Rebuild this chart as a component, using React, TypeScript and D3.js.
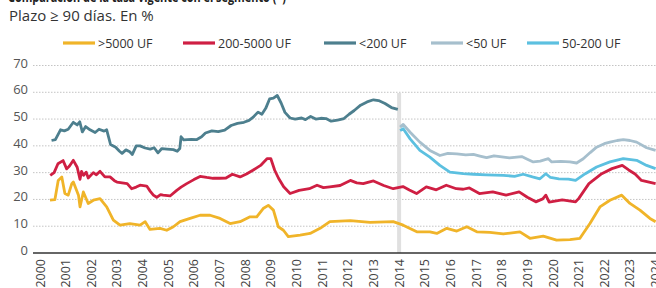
import React, { useEffect, useRef } from 'react';
import * as d3 from 'd3';

type Pt = [number, number];

const yearTicks = d3.range(2000, 2025);
const valueTicks = [0, 10, 20, 30, 40, 50, 60, 70];

// >5000 UF
const over5000: Pt[] = [
  [2000.39, 19.7], [2000.58, 19.9], [2000.71, 27.1], [2000.85, 28.4], [2000.97, 22.2], [2001.1, 21.6],
  [2001.24, 25.9], [2001.3, 26.5], [2001.5, 21.6], [2001.56, 17.2], [2001.69, 22.8], [2001.88, 18.5],
  [2002.08, 19.7], [2002.34, 20.3], [2002.6, 17.2], [2002.86, 12.3], [2003.12, 10.4], [2003.5, 11],
  [2003.9, 10.4], [2004.1, 11.7], [2004.29, 8.8], [2004.68, 9.2], [2004.94, 8.5], [2005.2, 9.8],
  [2005.46, 11.7], [2005.85, 12.9], [2006.24, 14.1], [2006.63, 14.1], [2007.02, 12.9], [2007.41, 11],
  [2007.8, 11.7], [2008.19, 13.5], [2008.45, 13.5], [2008.7, 16.6], [2008.9, 17.8], [2009.1, 16],
  [2009.29, 9.8], [2009.49, 8.5], [2009.68, 6.1], [2010.14, 6.7], [2010.53, 7.3], [2010.92, 9.2],
  [2011.3, 11.7], [2012.1, 12.1], [2012.87, 11.4], [2013.77, 11.7], [2014.16, 10.4], [2014.69, 7.9],
  [2015.2, 7.9], [2015.47, 7.3], [2015.86, 9.2], [2016.25, 8.2], [2016.64, 9.8], [2017.03, 7.9],
  [2017.54, 7.7], [2018.06, 7.1], [2018.71, 7.9], [2019.1, 5.5], [2019.62, 6.3], [2020.14, 4.8],
  [2020.66, 5], [2021.05, 5.5], [2021.44, 11], [2021.83, 17.2], [2022.22, 19.7], [2022.68, 21.6],
  [2023.0, 18.5], [2023.39, 16], [2023.78, 12.9], [2024.0, 11.7],
];

// 200-5000 UF
const mid200to5000: Pt[] = [
  [2000.4, 29], [2000.55, 30], [2000.7, 33.3], [2000.9, 34.5], [2001.04, 31.4], [2001.15, 32.5],
  [2001.3, 34.6], [2001.45, 32], [2001.56, 27.5], [2001.62, 30.5], [2001.7, 29], [2001.8, 30.2],
  [2001.88, 28], [2002.08, 30], [2002.2, 29.2], [2002.34, 30.5], [2002.53, 28.4], [2002.73, 28.4],
  [2002.9, 27], [2003.0, 26.5], [2003.2, 26.2], [2003.4, 25.9], [2003.57, 24], [2003.75, 24.6],
  [2003.9, 25.3], [2004.16, 25], [2004.3, 23], [2004.42, 21.6], [2004.55, 20.8], [2004.7, 21.8],
  [2004.8, 21.6], [2005.07, 21.3], [2005.33, 23.4], [2005.5, 24.6], [2005.72, 25.9], [2006.0, 27.4],
  [2006.24, 28.6], [2006.5, 28.2], [2006.75, 27.9], [2007.0, 27.9], [2007.25, 28], [2007.5, 29.4],
  [2007.8, 28.4], [2008.05, 29.5], [2008.3, 30.9], [2008.6, 32.7], [2008.85, 35.2], [2009.0, 35.2],
  [2009.15, 30.9], [2009.3, 27.9], [2009.5, 24.7], [2009.75, 22.2], [2010.1, 23.4], [2010.5, 24],
  [2010.8, 25.3], [2011.05, 24.4], [2011.3, 24.7], [2011.7, 25.2], [2012.1, 27.1], [2012.35, 26.2],
  [2012.6, 25.9], [2013.0, 26.9], [2013.4, 25.2], [2013.77, 24], [2014.15, 24.8], [2014.4, 23.5],
  [2014.68, 22.2], [2015.06, 24.7], [2015.45, 23.6], [2015.84, 25.3], [2016.23, 24], [2016.5, 23.8],
  [2016.74, 24.3], [2017.13, 22.2], [2017.65, 22.8], [2018.17, 21.6], [2018.68, 22.8], [2019.0, 20.8],
  [2019.33, 19.1], [2019.6, 20.2], [2019.72, 21.6], [2019.85, 19], [2020.36, 19.8], [2020.88, 19.1],
  [2021.0, 20.3], [2021.4, 25.9], [2021.9, 29.6], [2022.3, 31.5], [2022.7, 32.7], [2022.95, 31],
  [2023.2, 29.5], [2023.45, 27.1], [2024.0, 25.9],
];

// <200 UF
const under200: Pt[] = [
  [2000.45, 42], [2000.6, 42.3], [2000.8, 46], [2000.95, 45.6], [2001.1, 46.2], [2001.3, 48.8],
  [2001.45, 47.8], [2001.55, 49], [2001.65, 45.2], [2001.78, 47.2], [2001.95, 46], [2002.15, 45],
  [2002.3, 46.2], [2002.5, 45.5], [2002.6, 46], [2002.75, 40.5], [2002.95, 39.5], [2003.1, 38],
  [2003.2, 37.2], [2003.35, 38.5], [2003.5, 37.8], [2003.6, 36.8], [2003.75, 40], [2003.9, 40],
  [2004.1, 39.2], [2004.3, 38.8], [2004.45, 39.3], [2004.6, 37.4], [2004.75, 39], [2004.95, 38.8],
  [2005.2, 38.6], [2005.35, 38], [2005.45, 39], [2005.5, 43.4], [2005.6, 42.2], [2005.9, 42.4],
  [2006.1, 42.3], [2006.3, 43.4], [2006.45, 44.8], [2006.7, 45.6], [2006.95, 45.3], [2007.2, 45.9],
  [2007.45, 47.6], [2007.7, 48.4], [2007.95, 48.8], [2008.15, 49.5], [2008.3, 50.6], [2008.5, 52.6],
  [2008.65, 51.8], [2008.8, 54], [2008.95, 57.5], [2009.1, 57.8], [2009.25, 58.8], [2009.4, 56],
  [2009.55, 52.5], [2009.75, 50.4], [2009.95, 50], [2010.2, 50.4], [2010.35, 49.8], [2010.55, 51],
  [2010.75, 50], [2010.95, 50.3], [2011.15, 50.2], [2011.35, 49.2], [2011.6, 49.6], [2011.85, 50.2],
  [2012.05, 51.8], [2012.25, 53.2], [2012.5, 55.2], [2012.75, 56.4], [2013.0, 57.2], [2013.2, 56.9],
  [2013.45, 55.8], [2013.7, 54.3], [2013.95, 53.6],
];

// <50 UF
const under50: Pt[] = [
  [2014.04, 47], [2014.16, 48], [2014.43, 45.1], [2014.81, 41.4], [2015.2, 38.3], [2015.59, 36.4],
  [2015.9, 37.2], [2016.25, 37], [2016.6, 36.6], [2016.9, 36.8], [2017.15, 36.2], [2017.41, 35.6],
  [2017.7, 36.3], [2017.93, 36], [2018.3, 35.5], [2018.78, 36], [2019.0, 35], [2019.23, 34],
  [2019.5, 34.3], [2019.82, 35.2], [2019.95, 34], [2020.3, 34.2], [2020.66, 34], [2020.92, 33.6],
  [2021.18, 35.2], [2021.45, 37.5], [2021.7, 39.5], [2022.0, 40.8], [2022.22, 41.4], [2022.5, 42],
  [2022.74, 42.3], [2023.0, 42], [2023.26, 41.4], [2023.65, 39.3], [2024.0, 38.3],
];

// 50-200 UF
const from50to200: Pt[] = [
  [2014.04, 45.7], [2014.16, 46.4], [2014.43, 42.6], [2014.81, 38.3], [2015.2, 35.8], [2015.59, 32.7],
  [2015.98, 30.2], [2016.5, 29.6], [2016.9, 29.4], [2017.4, 29.2], [2018.06, 29], [2018.5, 28.6],
  [2018.84, 29.4], [2019.2, 28.4], [2019.49, 27.7], [2019.72, 29.6], [2019.9, 28.2], [2020.23, 27.7],
  [2020.6, 27.6], [2020.88, 27.1], [2021.26, 29.6], [2021.7, 32.1], [2022.22, 34], [2022.74, 35.2],
  [2023.26, 34.6], [2023.65, 32.7], [2024.0, 31.5],
];

const seriesNames = ['>5000 UF', '200-5000 UF', '<200 UF', '<50 UF', '50-200 UF'];
const seriesColors = ['#f0b429', '#cf1f43', '#4d7f8e', '#a6bfcd', '#5cc0e0'];
const seriesData = [over5000, mid200to5000, under200, under50, from50to200];

const App: React.FC = () => {
  const ref = useRef<SVGSVGElement>(null);

  useEffect(() => {
    if (!ref.current) return;
    const svg = d3.select(ref.current);
    svg.selectAll('*').remove();

    const font = '"Open Sans", sans-serif';
    const left = 33;
    const right = 656;

    const x = d3.scaleLinear().domain([2000, 2024]).range([40, 655.6]);
    const y = d3.scaleLinear().domain([0, 70]).range([253, 65.5]);

    // title (cut off at the top) and subtitle
    svg.append('text')
      .attr('x', 8).attr('y', 2)
      .attr('font-family', font).attr('font-size', 15).attr('font-weight', 700)
      .attr('fill', '#222')
      .attr('textLength', 278)
      .attr('lengthAdjust', 'spacingAndGlyphs')
      .text('Comparación de la tasa vigente con el segmento (*)');
    svg.append('text')
      .attr('x', 9).attr('y', 21)
      .attr('font-family', font).attr('font-size', 15)
      .attr('fill', '#333')
      .text('Plazo ≥ 90 días. En %');

    // legend
    const legendX = [63, 183, 324, 431, 527];
    seriesNames.forEach((name, i) => {
      const lg = svg.append('g').attr('transform', `translate(${legendX[i]},43)`);
      lg.append('line').attr('x1', 0).attr('x2', 32).attr('y1', 0).attr('y2', 0)
        .attr('stroke', seriesColors[i]).attr('stroke-width', 3.2);
      lg.append('text').attr('x', 35).attr('y', 4.5)
        .attr('font-family', font).attr('font-size', 12.5).attr('fill', '#333')
        .text(name);
    });

    // gridlines
    svg.append('g').selectAll('line')
      .data(valueTicks.filter(v => v > 0))
      .enter().append('line')
      .attr('x1', left).attr('x2', right)
      .attr('y1', d => y(d)).attr('y2', d => y(d))
      .attr('stroke', '#c4c4c4').attr('stroke-width', 1)
      .attr('stroke-dasharray', '1.5,1.5');

    // y labels
    svg.append('g').selectAll('text')
      .data(valueTicks)
      .enter().append('text')
      .attr('x', 28).attr('y', d => y(d) + 2)
      .attr('text-anchor', 'end')
      .attr('font-family', font).attr('font-size', 13).attr('fill', '#555')
      .text(d => d);

    // 2014 marker band
    svg.append('rect')
      .attr('x', x(2014) - 2).attr('width', 4)
      .attr('y', 93).attr('height', y(0) - 93)
      .attr('fill', '#e0e0e0');

    // lines
    const line = d3.line<Pt>().x(d => x(d[0])).y(d => y(d[1]));
    seriesData.forEach((data, i) => {
      svg.append('path')
        .datum(data)
        .attr('d', line)
        .attr('fill', 'none')
        .attr('stroke', seriesColors[i])
        .attr('stroke-width', 2.8)
        .attr('stroke-linejoin', 'round');
    });

    // baseline
    svg.append('line')
      .attr('x1', left).attr('x2', right)
      .attr('y1', y(0)).attr('y2', y(0))
      .attr('stroke', '#333').attr('stroke-width', 1.5);

    // x labels (rotated)
    svg.append('g').selectAll('text')
      .data(yearTicks)
      .enter().append('text')
      .attr('transform', d => `translate(${x(d) + 4.5},259) rotate(-90)`)
      .attr('text-anchor', 'end')
      .attr('font-family', font).attr('font-size', 12.5).attr('fill', '#444')
      .text(d => d);
  }, []);

  return (
    <svg
      ref={ref}
      width={656}
      height={288}
      style={{ position: 'absolute', left: 0, top: 0, background: '#fff' }}
    />
  );
};

export default App;
